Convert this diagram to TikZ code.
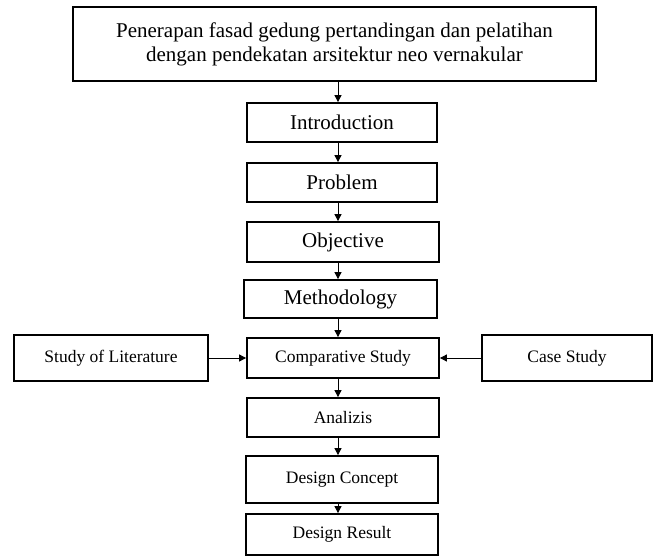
\documentclass[tikz,border=0pt]{standalone}
\usepackage{fontspec}
\setmainfont{Liberation Serif}
\usetikzlibrary{arrows.meta}
\begin{document}
\begin{tikzpicture}[x=1pt,y=-1pt,
  box/.style={draw=black,line width=1.8pt,rectangle,inner sep=0pt,align=center},
  bigtxt/.style={font=\fontsize{21}{24}\selectfont},
  smalltxt/.style={font=\fontsize{17.5}{20}\selectfont},
  arr/.style={draw=black,line width=0.9pt,-{Triangle[length=7pt,width=7pt]}}]
\useasboundingbox (0,0) rectangle (662,557);
\fill[white] (0,0) rectangle (662,557);
\coordinate (axis) at (338,0);
\node[box,bigtxt,minimum width=523pt,minimum height=74pt] (top) at (334.5,44)
  {Penerapan fasad gedung pertandingan dan pelatihan\\dengan pendekatan arsitektur neo vernakular};
\node[box,bigtxt,minimum width=190pt,minimum height=39pt] (intro) at (342,122.5) {Introduction};
\node[box,bigtxt,minimum width=190pt,minimum height=39pt] (prob) at (342,182.5) {Problem};
\node[box,bigtxt,minimum width=192pt,minimum height=40pt] (obj) at (343,242) {Objective};
\node[box,bigtxt,minimum width=193pt,minimum height=38pt] (meth) at (340.5,299) {Methodology};
\node[box,smalltxt,minimum width=192pt,minimum height=40pt] (comp) at (343,358) {Comparative Study};
\node[box,smalltxt,minimum width=192pt,minimum height=39pt] (ana) at (343,417.5) {Analizis};
\node[box,smalltxt,minimum width=192pt,minimum height=47pt] (dc) at (342,479.5) {Design Concept};
\node[box,smalltxt,minimum width=192pt,minimum height=41pt] (dr) at (342,534.5) {Design Result};
\node[box,smalltxt,minimum width=194pt,minimum height=46pt] (lit) at (111,358) {Study of Literature};
\node[box,smalltxt,minimum width=170pt,minimum height=46pt] (case) at (567,358) {Case Study};
\draw[arr] (top.south -| axis) -- (intro.north -| axis);
\draw[arr] (intro.south -| axis) -- (prob.north -| axis);
\draw[arr] (prob.south -| axis) -- (obj.north -| axis);
\draw[arr] (obj.south -| axis) -- (meth.north -| axis);
\draw[arr] (meth.south -| axis) -- (comp.north -| axis);
\draw[arr] (comp.south -| axis) -- (ana.north -| axis);
\draw[arr] (ana.south -| axis) -- (dc.north -| axis);
\draw[arr] (dc.south -| axis) -- (dr.north -| axis);
\draw[arr] (lit.east) -- (comp.west);
\draw[arr] (case.west) -- (comp.east);
\end{tikzpicture}
\end{document}
